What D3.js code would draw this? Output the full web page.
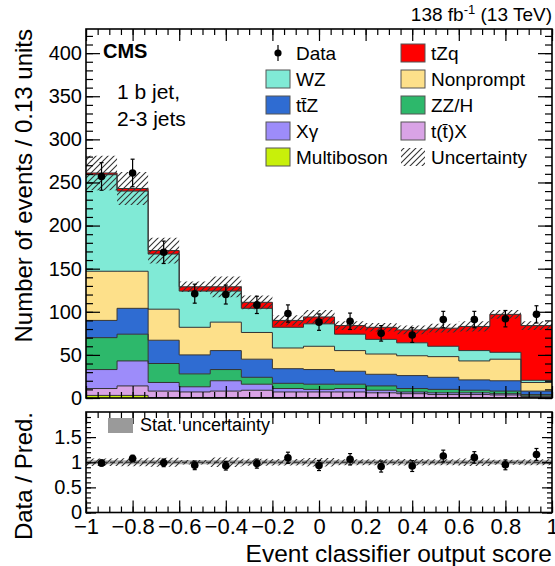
<!DOCTYPE html>
<html>
<head>
<meta charset="utf-8">
<script src="https://cdn.jsdelivr.net/npm/d3@7"></script>
<style>
  html, body { margin: 0; padding: 0; background: #fff; }
  svg { display: block; font-family: "Liberation Sans", Arial, Helvetica, sans-serif; }
</style>
</head>
<body>
<svg id="chart" width="555" height="566"></svg>
<script>
// Bin edges of the event classifier output score (15 bins of 0.133)
const binEdges = [-1, -0.8667, -0.7333, -0.6, -0.4667, -0.3333, -0.2, -0.0667,
                  0.0667, 0.2, 0.3333, 0.4667, 0.6, 0.7333, 0.8667, 1];

// Expected events per bin for each process (stacked bottom to top)
const multiboson = [3, 3, 0.5, 0.5, 0.5, 0.5, 0.5, 0.5, 0.5, 0.5, 0.3, 0.3, 0.3, 0.3, 0.2];
const ttX        = [8, 11, 7.5, 6.5, 7.5, 8.5, 6.5, 6.5, 6.5, 5.5, 4.7, 3.7, 3.7, 3.2, 1.3];
const xGamma     = [22, 29, 10, 6, 12, 7, 4, 3, 4, 3, 2, 2, 2, 1.5, 1];
const zzH        = [37, 31, 22, 15, 13, 8, 6, 6, 5, 5, 4, 4, 3, 3, 1.5];
const ttZ        = [20, 30, 27, 22, 22, 21, 17, 17, 15, 13.5, 15, 14, 12, 12, 4];
const nonprompt  = [57, 43, 36, 32, 33, 31, 24, 27, 24, 23.5, 23, 24, 22, 25, 10];
const wz         = [112, 93, 64, 42, 36, 28, 24, 26, 19, 17, 15, 12, 12, 8, 2.5];
const tzq        = [2, 3, 4, 5, 5, 7, 8, 8, 10, 14, 15, 21, 28, 44, 63.5];

// Total prediction uncertainty (events) and relative stat. uncertainty
const totalUnc   = [20, 19, 15, 6, 12, 8, 6, 8, 5, 5, 5, 5, 6, 5, 5];
const statRel    = [0.04, 0.04, 0.04, 0.04, 0.04, 0.04, 0.04, 0.04, 0.04, 0.04, 0.04, 0.04, 0.04, 0.04, 0.04];

// Observed data and their uncertainties
const dataCounts = [257, 261, 169, 121, 120, 108, 98, 88, 89, 75, 73, 91, 91, 92, 97];
const dataErr    = [16, 16, 13, 11, 11, 10, 10, 9.5, 9.5, 9, 8.5, 9.5, 9.5, 9.5, 10];

// Axis ticks
const yTicks      = [0, 50, 100, 150, 200, 250, 300, 350, 400];
const ratioTicks  = [0, 0.5, 1, 1.5];
const xTicks      = [-1, -0.8, -0.6, -0.4, -0.2, 0, 0.2, 0.4, 0.6, 0.8, 1];

const processes = [
  { key: "Multiboson", values: multiboson, color: "#c8f00a" },
  { key: "ttX",        values: ttX,        color: "#d9a3e6" },
  { key: "Xgamma",     values: xGamma,     color: "#9d8cfa" },
  { key: "ZZH",        values: zzH,        color: "#2db86b" },
  { key: "ttZ",        values: ttZ,        color: "#2f6cd2" },
  { key: "Nonprompt",  values: nonprompt,  color: "#fde08a" },
  { key: "WZ",         values: wz,         color: "#80ead6" },
  { key: "tZq",        values: tzq,        color: "#ff0000" }
];

const rows = binEdges.slice(0, -1).map((lo, i) => {
  const r = { lo, hi: binEdges[i + 1] };
  processes.forEach(p => { r[p.key] = p.values[i]; });
  return r;
});
const stacked = d3.stack().keys(processes.map(p => p.key))(rows);
const totals = rows.map((r, i) => stacked[stacked.length - 1][i][1]);

// Layout
const L = 86, R = 552;
const mainTop = 29, mainBot = 398;
const ratTop = 412, ratBot = 512.5;

const svg = d3.select("#chart");
const x = d3.scaleLinear().domain([-1, 1]).range([L, R]);
const y = d3.scaleLinear().domain([0, 428]).range([mainBot, mainTop]);
const yr = d3.scaleLinear().domain([0, 2]).range([ratBot, ratTop]);

// Hatch pattern for uncertainty bands
const defs = svg.append("defs");
defs.append("pattern")
  .attr("id", "hatch").attr("patternUnits", "userSpaceOnUse")
  .attr("width", 6).attr("height", 6)
  .append("path")
  .attr("d", "M0,6 L6,0 M-1,1 L1,-1 M5,7 L7,5")
  .attr("stroke", "#333").attr("stroke-width", 1.1);
defs.append("clipPath").attr("id", "clipMain")
  .append("rect").attr("x", L).attr("y", mainTop).attr("width", R - L).attr("height", mainBot - mainTop);
defs.append("clipPath").attr("id", "clipRatio")
  .append("rect").attr("x", L).attr("y", ratTop).attr("width", R - L).attr("height", ratBot - ratTop);

// step-shaped band helper: two points per bin
function stepPoints(lo, hi) {
  const pts = [];
  rows.forEach((r, i) => {
    pts.push({ x: r.lo, y0: lo(i), y1: hi(i) });
    pts.push({ x: r.hi, y0: lo(i), y1: hi(i) });
  });
  return pts;
}

const main = svg.append("g").attr("clip-path", "url(#clipMain)");

// Stacked histograms
stacked.forEach((layer, li) => {
  const pts = stepPoints(i => layer[i][0], i => layer[i][1]);
  main.append("path")
    .attr("d", d3.area().x(d => x(d.x)).y0(d => y(d.y0)).y1(d => y(d.y1))(pts))
    .attr("fill", processes[li].color).attr("stroke", "none");
});
stacked.forEach(layer => {
  const pts = stepPoints(i => layer[i][0], i => layer[i][1]);
  main.append("path")
    .attr("d", d3.line().x(d => x(d.x)).y(d => y(d.y1))(pts))
    .attr("fill", "none").attr("stroke", "#333").attr("stroke-width", 1);
});

// Total uncertainty band
const uncPts = stepPoints(i => totals[i] - totalUnc[i], i => totals[i] + totalUnc[i]);
main.append("path")
  .attr("d", d3.area().x(d => x(d.x)).y0(d => y(d.y0)).y1(d => y(d.y1))(uncPts))
  .attr("fill", "url(#hatch)");

// Data points
function drawPoints(g, xs, ys, lo, hi) {
  xs.forEach((xv, i) => {
    g.append("line").attr("x1", xv).attr("x2", xv).attr("y1", lo[i]).attr("y2", hi[i])
      .attr("stroke", "#000").attr("stroke-width", 1.2);
    [lo[i], hi[i]].forEach(e => g.append("line")
      .attr("x1", xv - 2).attr("x2", xv + 2).attr("y1", e).attr("y2", e)
      .attr("stroke", "#000").attr("stroke-width", 1.2));
    g.append("circle").attr("cx", xv).attr("cy", ys[i]).attr("r", 3.8).attr("fill", "#000");
  });
}
const centers = rows.map(r => x((r.lo + r.hi) / 2));
drawPoints(svg.append("g"), centers,
  dataCounts.map(v => y(v)),
  dataCounts.map((v, i) => y(v - dataErr[i])),
  dataCounts.map((v, i) => y(v + dataErr[i])));

// Ratio panel
const ratio = svg.append("g").attr("clip-path", "url(#clipRatio)");
const statPts = stepPoints(i => 1 - statRel[i], i => 1 + statRel[i]);
ratio.append("path")
  .attr("d", d3.area().x(d => x(d.x)).y0(d => yr(d.y0)).y1(d => yr(d.y1))(statPts))
  .attr("fill", "#9a9a9a").attr("opacity", 0.85);
const rUncPts = stepPoints(i => 1 - totalUnc[i] / totals[i], i => 1 + totalUnc[i] / totals[i]);
ratio.append("path")
  .attr("d", d3.area().x(d => x(d.x)).y0(d => yr(d.y0)).y1(d => yr(d.y1))(rUncPts))
  .attr("fill", "url(#hatch)");
ratio.append("line").attr("x1", L).attr("x2", R).attr("y1", yr(1)).attr("y2", yr(1))
  .attr("stroke", "#222").attr("stroke-width", 1).attr("stroke-dasharray", "5,3");

const ratioVals = dataCounts.map((v, i) => v / totals[i]);
drawPoints(svg.append("g"), centers,
  ratioVals.map(v => yr(v)),
  ratioVals.map((v, i) => yr(v - dataErr[i] / totals[i])),
  ratioVals.map((v, i) => yr(v + dataErr[i] / totals[i])));

// Axes (ticks pointing into the frames)
const font = "Liberation Sans, Arial, sans-serif";
function styleAxis(g) {
  g.select(".domain").remove();
  g.selectAll(".tick line").attr("stroke", "#000").attr("stroke-width", 1.2);
  g.selectAll("text").attr("fill", "#000").attr("font-family", font);
}
function minorRange(a, b, s) {
  const out = [];
  for (let v = a; v <= b + 1e-9; v += s) out.push(+v.toFixed(4));
  return out;
}
const fmt = d3.format("~g");

// main y
svg.append("g").attr("transform", `translate(${L},0)`)
  .call(d3.axisLeft(y).tickValues(minorRange(0, 420, 10)).tickSize(-7).tickFormat(""))
  .call(styleAxis);
svg.append("g").attr("transform", `translate(${L},0)`)
  .call(d3.axisLeft(y).tickValues(yTicks).tickSize(-14).tickPadding(4).tickFormat(fmt))
  .call(styleAxis).call(g => g.selectAll("text").attr("font-size", 20));
svg.append("g").attr("transform", `translate(${R},0)`)
  .call(d3.axisRight(y).tickValues(minorRange(0, 420, 10)).tickSize(-7).tickFormat(""))
  .call(styleAxis);
svg.append("g").attr("transform", `translate(${R},0)`)
  .call(d3.axisRight(y).tickValues(yTicks).tickSize(-14).tickFormat(""))
  .call(styleAxis);

// ratio y
svg.append("g").attr("transform", `translate(${L},0)`)
  .call(d3.axisLeft(yr).tickValues(minorRange(0, 1.9, 0.1)).tickSize(-5).tickFormat(""))
  .call(styleAxis);
svg.append("g").attr("transform", `translate(${L},0)`)
  .call(d3.axisLeft(yr).tickValues(ratioTicks).tickSize(-10).tickPadding(4).tickFormat(fmt))
  .call(styleAxis).call(g => g.selectAll("text").attr("font-size", 20));
svg.append("g").attr("transform", `translate(${R},0)`)
  .call(d3.axisRight(yr).tickValues(minorRange(0, 1.9, 0.1)).tickSize(-5).tickFormat(""))
  .call(styleAxis);
svg.append("g").attr("transform", `translate(${R},0)`)
  .call(d3.axisRight(yr).tickValues(ratioTicks).tickSize(-10).tickFormat(""))
  .call(styleAxis);

// x axes: top & bottom of both frames
const xMinor = minorRange(-1, 1, 0.05);
[[mainBot, "b"], [mainTop, "t"], [ratBot, "b"], [ratTop, "t"]].forEach(([yy, side]) => {
  const gen = side === "b" ? d3.axisBottom : d3.axisTop;
  svg.append("g").attr("transform", `translate(0,${yy})`)
    .call(gen(x).tickValues(xMinor).tickSize(-6).tickFormat("")).call(styleAxis);
  svg.append("g").attr("transform", `translate(0,${yy})`)
    .call(gen(x).tickValues(xTicks).tickSize(-12).tickFormat("")).call(styleAxis);
});
svg.append("g").attr("transform", `translate(0,${ratBot})`)
  .call(d3.axisBottom(x).tickValues(xTicks).tickSize(0).tickPadding(6).tickFormat(fmt))
  .call(styleAxis)
  .call(g => g.selectAll("text").attr("font-size", 22).attr("dy", "0.72em"));

// Frames
[[mainTop, mainBot], [ratTop, ratBot]].forEach(([t, b]) => {
  svg.append("rect").attr("x", L).attr("y", t).attr("width", R - L).attr("height", b - t)
    .attr("fill", "none").attr("stroke", "#000").attr("stroke-width", 1.6);
});

// Axis titles
svg.append("text").attr("transform", `translate(32,${mainTop}) rotate(-90)`)
  .attr("text-anchor", "end").attr("font-size", 24).text("Number of events / 0.13 units");
svg.append("text").attr("transform", `translate(32,${ratTop}) rotate(-90)`)
  .attr("text-anchor", "end").attr("font-size", 24).text("Data / Pred.");
svg.append("text").attr("x", R).attr("y", 562).attr("text-anchor", "end")
  .attr("font-size", 24.5).text("Event classifier output score");

// Header
const hdr = svg.append("text").attr("x", R).attr("y", 21).attr("text-anchor", "end").attr("font-size", 19);
hdr.append("tspan").text("138 fb");
hdr.append("tspan").attr("dy", -7).attr("font-size", 13).text("-1");
hdr.append("tspan").attr("dy", 7).text(" (13 TeV)");

// Labels inside the frame
svg.append("text").attr("x", 103).attr("y", 58).attr("font-weight", "bold").attr("font-size", 20).text("CMS");
svg.append("text").attr("x", 117).attr("y", 99).attr("font-size", 21).text("1 b jet,");
svg.append("text").attr("x", 117).attr("y", 126).attr("font-size", 21).text("2-3 jets");

// Legend
const legendItems = [
  { label: "Data", type: "data", col: 0, row: 0 },
  { label: "tZq", color: "#ff0000", col: 1, row: 0 },
  { label: "WZ", color: "#80ead6", col: 0, row: 1 },
  { label: "Nonprompt", color: "#fde08a", col: 1, row: 1 },
  { label: "tt\u0304Z", color: "#2f6cd2", col: 0, row: 2 },
  { label: "ZZ/H", color: "#2db86b", col: 1, row: 2 },
  { label: "X\u03b3", color: "#9d8cfa", col: 0, row: 3 },
  { label: "t(t\u0304)X", color: "#d9a3e6", col: 1, row: 3 },
  { label: "Multiboson", color: "#c8f00a", col: 0, row: 4 },
  { label: "Uncertainty", type: "hatch", col: 1, row: 4 }
];
const legCols = [266, 401], legRow0 = 53, legStep = 26;
legendItems.forEach(it => {
  const bx = legCols[it.col], cy = legRow0 + it.row * legStep;
  const g = svg.append("g");
  if (it.type === "data") {
    g.append("line").attr("x1", bx + 12).attr("x2", bx + 12).attr("y1", cy - 8).attr("y2", cy + 8)
      .attr("stroke", "#000").attr("stroke-width", 1.2);
    g.append("circle").attr("cx", bx + 12).attr("cy", cy).attr("r", 3.6).attr("fill", "#000");
  } else if (it.type === "hatch") {
    g.append("rect").attr("x", bx).attr("y", cy - 9).attr("width", 24).attr("height", 18)
      .attr("fill", "url(#hatch)");
  } else {
    g.append("rect").attr("x", bx).attr("y", cy - 9).attr("width", 24).attr("height", 18)
      .attr("fill", it.color).attr("stroke", "#555").attr("stroke-width", 1);
  }
  g.append("text").attr("x", bx + 30).attr("y", cy + 7).attr("font-size", 19).text(it.label);
});

// Ratio legend
svg.append("rect").attr("x", 108).attr("y", 418).attr("width", 25).attr("height", 15)
  .attr("fill", "#9a9a9a");
svg.append("text").attr("x", 140).attr("y", 431).attr("font-size", 18).text("Stat. uncertainty");
</script>
</body>
</html>
